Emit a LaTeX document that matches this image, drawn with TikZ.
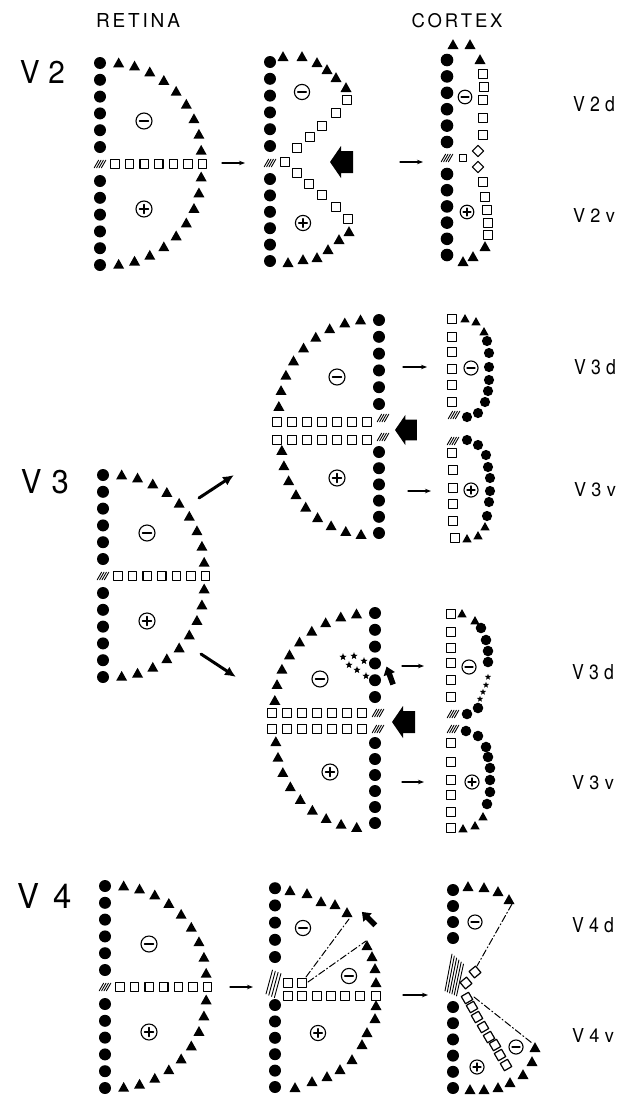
\documentclass[tikz,border=0pt]{standalone}
\usepackage{fontspec}
\setmainfont{TeX Gyre Heros}
\usetikzlibrary{arrows.meta}
\tikzset{
  pdot/.pic={\fill (0,0) circle[radius=6];},
  ptri/.pic={\fill (-5.5,4) -- (5.5,4) -- (0,-5.8) -- cycle;},
  psq/.pic={\draw[line width=1.2pt] (-4.2,-4.2) rectangle (4.2,4.2);},
  phatch/.pic={\foreach \i in {-1.5,-0.5,0.5,1.5}{\draw[line width=0.9pt] ({\i*2.4-2.2},3.8) -- ({\i*2.4+2.2},-3.8);}},
  pminus/.pic={\draw[line width=1.1pt] (0,0) circle[radius=8]; \draw[line width=1.4pt] (-4.5,0) -- (4.5,0);},
  pplus/.pic={\draw[line width=1.1pt] (0,0) circle[radius=8]; \draw[line width=1.4pt] (-4.5,0) -- (4.5,0) (0,-4.5) -- (0,4.5);},
  pstar/.pic={\fill (-90:3.8) -- (-54:1.6) -- (-18:3.8) -- (18:1.6) -- (54:3.8) -- (90:1.6) -- (126:3.8) -- (162:1.6) -- (198:3.8) -- (234:1.6) -- cycle;},
  pbig/.pic={\fill (0,0) -- (11,-16) -- (11,-11) -- (23,-11) -- (23,11) -- (11,11) -- (11,16) -- cycle;},
  psmall/.pic={\fill (0,-10) -- (6,-2) -- (2.8,-2) -- (2.8,9) -- (-2.8,9) -- (-2.8,-2) -- (-6,-2) -- cycle;},
  thinarr/.style={line width=1.1pt, -{Stealth[length=6pt,width=4.5pt]}},
  thickarr/.style={line width=3pt, -{Latex[length=11pt,width=10pt]}},
  dashdot/.style={line width=1pt, dash pattern=on 7pt off 2.5pt on 1.2pt off 2.5pt},
  lbl/.style={inner sep=0pt, outer sep=0pt},
}
\newcommand{\DotCol}[5][1]{\foreach \k in {1,...,#5}{\pic[scale=#1] at ({#2},{#3+(#4)*(\k-1)}) {pdot};}}
\newcommand{\SqRow}[4]{\foreach \k in {1,...,#4}{\pic at ({#1+(#3)*(\k-1)},{#2}) {psq};}}
\newcommand{\TriArc}[5]{\foreach \a in {7.5,16.5,25.5,34.5,43.5,52.5,61.5,70.5,79.5}{\pic at ({#1+(#3)*(#5+4*sin(2*\a))*cos(\a)},{#2+(#4)*(#5+4*sin(2*\a))*sin(\a)}) {ptri};}}
\newcommand{\RetD}[2]{%
  \DotCol{#1}{#2-17}{-16.8}{6}
  \DotCol{#1}{#2+17}{16.8}{6}
  \TriArc{#1}{#2}{1}{-1}{101}
  \TriArc{#1}{#2}{1}{1}{101}
  \SqRow{#1+15}{#2}{14.6}{7}
  \pic at ({#1},{#2}) {phatch};
  \pic at ({#1+44},{#2-43}) {pminus};
  \pic at ({#1+44},{#2+45}) {pplus};
}
\newcommand{\fsMid}[1]{{\fontsize{20}{20}\selectfont #1}}
\newcommand{\fsLrg}[1]{{\fontsize{31}{31}\selectfont #1}}
\begin{document}
\begin{tikzpicture}[x=1pt,y=-1pt,line cap=round,line join=round]
\useasboundingbox (0,0) rectangle (631,1095);
\fill[white] (0,0) rectangle (631,1095);

% ---------- labels ----------
\node[lbl] (tret) at (138,20) {\resizebox{84pt}{14pt}{\fsMid{R\kern3pt E\kern3pt T\kern3pt I\kern3pt N\kern3pt A}}};
\node[lbl] (tcor) at (457,21) {\resizebox{91pt}{14pt}{\fsMid{C\kern3pt O\kern3pt R\kern3pt T\kern3pt E\kern3pt X}}};
\node[lbl] (tv2) at (42.5,71.5) {\resizebox{45pt}{23pt}{\fsLrg{V\kern9pt 2}}};
\node[lbl] (tv3) at (45,482) {\resizebox{48pt}{24pt}{\fsLrg{V\kern10pt 3}}};
\node[lbl] (tv4) at (45,896) {\resizebox{54pt}{25pt}{\fsLrg{V\kern13pt 4}}};
\node[lbl] (tv2d) at (594,104.5) {\resizebox{42pt}{15pt}{\fsMid{V\kern6pt 2\kern6pt d}}};
\node[lbl] (tv2v) at (594,215) {\resizebox{42pt}{14pt}{\fsMid{V\kern6pt 2\kern6pt v}}};
\node[lbl] (tv3da) at (595,367.5) {\resizebox{42pt}{15pt}{\fsMid{V\kern6pt 3\kern6pt d}}};
\node[lbl] (tv3va) at (595,490) {\resizebox{42pt}{14pt}{\fsMid{V\kern6pt 3\kern6pt v}}};
\node[lbl] (tv3db) at (593,672.5) {\resizebox{42pt}{15pt}{\fsMid{V\kern6pt 3\kern6pt d}}};
\node[lbl] (tv3vb) at (593,783) {\resizebox{42pt}{14pt}{\fsMid{V\kern6pt 3\kern6pt v}}};
\node[lbl] (tv4d) at (593,925.5) {\resizebox{42pt}{15pt}{\fsMid{V\kern6pt 4\kern6pt d}}};
\node[lbl] (tv4v) at (593,1035.5) {\resizebox{42pt}{14pt}{\fsMid{V\kern6pt 4\kern6pt v}}};

% ---------- retina D's ----------
\RetD{100}{164}
\RetD{103}{576}
\RetD{105}{987}

% ---------- V2 middle ----------
\DotCol{270}{146}{-16.8}{6}
\DotCol{270}{179}{16.4}{6}
\pic at (270,163) {phatch};
\foreach \p in {(283,57),(302,57),(317,63),(327,70),(336,78),(346,88),(349,232),(339,240),(328,250),(317,258),(303,260),(288,263)} \pic at \p {ptri};
\foreach \p in {(347,100),(336,113),(322,126),(310,137),(297,148),(285,162),(297,173),(309,184),(322,195),(336,207),(348,219)} \pic at \p {psq};
\pic[scale=0.95] at (302,92) {pminus};
\pic[scale=0.95] at (303,223) {pplus};
\pic at (330,162) {pbig};

% ---------- V2 cortex ----------
\DotCol[1.05]{447}{142}{-16.4}{6}
\DotCol[1.05]{447}{174}{16.2}{6}
\pic at (447,158) {phatch};
\foreach \p in {(453,45),(470,45),(480,60),(485,247),(473,257),(463,262)} \pic at \p {ptri};
\foreach \p in {(483,74),(484,87),(483,100),(483,118),(483,135),(483,182),(485,197),(487,210),(488,223),(488,235)} \pic at \p {psq};
\pic[scale=0.9] at (463,158) {psq};
\pic[rotate=45,scale=0.95] at (478,151) {psq};
\pic[rotate=45,scale=0.95] at (478,167) {psq};
\pic[scale=0.85] at (465,97) {pminus};
\pic[scale=0.85] at (467,212) {pplus};

% V2 arrows
\coordinate (a1s) at (222,163); \coordinate (a1e) at (245,163);
\coordinate (a2s) at (400,162); \coordinate (a2e) at (423,162);
\draw[thinarr] (a1s) -- (a1e);
\draw[thinarr] (a2s) -- (a2e);

% ---------- V3 diagonal arrows ----------
\coordinate (d1s) at (199,498); \coordinate (d1e) at (234,475);
\coordinate (d2s) at (201,654); \coordinate (d2e) at (236,677);
\draw[thickarr] (d1s) -- (d1e);
\draw[thickarr] (d2s) -- (d2e);

% ---------- V3 upper middle ----------
\DotCol{379}{404}{-16.8}{6}
\DotCol{379}{452}{16.2}{6}
\TriArc{379}{420}{-1}{-1}{100}
\TriArc{379}{438}{-1}{1}{97}
\SqRow{367}{422}{-15}{7}
\SqRow{367}{440}{-15}{7}
\pic at (383,418) {phatch};
\pic at (383,437) {phatch};
\pic at (337,377) {pminus};
\pic at (337,478) {pplus};
\pic[scale=0.95] at (395,430) {pbig};
\coordinate (b1s) at (403,367); \coordinate (b1e) at (427,367);
\coordinate (b2s) at (408,491); \coordinate (b2e) at (431,491);
\draw[thinarr] (b1s) -- (b1e);
\draw[thinarr] (b2s) -- (b2e);

% ---------- V3 upper cortex ----------
\foreach \p in {(452,319),(452,337),(452,352),(452,369),(452,385),(452,402),(452,453),(453,470),(453,488),(453,504),(453,521),(455,538)} \pic at \p {psq};
\pic at (454,415) {phatch};
\pic at (453,441) {phatch};
\foreach \p in {(465,319),(476,322),(484,332),(485,527),(478,536),(467,539)} \pic[scale=0.85] at \p {ptri};
\foreach \p in {(487,341),(489,353),(489,367),(489,380),(488,391),(485,402),(478,413),(467,417),(467,440),(478,445),(486,455),(488,467),(490,478),(490,491),(489,502),(487,516)} \pic[scale=0.85] at \p {pdot};
\pic[scale=0.88] at (471,368) {pminus};
\pic[scale=0.88] at (471,490) {pplus};

% ---------- V3 lower middle ----------
\DotCol{375}{697}{-16.8}{6}
\DotCol{375}{743}{16}{6}
\TriArc{375}{714}{-1}{-1}{100}
\TriArc{375}{729}{-1}{1}{99}
\SqRow{362}{713}{-15}{7}
\SqRow{362}{729}{-15}{7}
\pic at (378,713) {phatch};
\pic at (378,729) {phatch};
\pic at (320,679) {pminus};
\pic at (330,772) {pplus};
\foreach \p in {(343,657),(354,656),(364,661),(349,665),(357,670),(366,676)} \pic at \p {pstar};
\pic[rotate=20] at (390,676) {psmall};
\pic at (392,722) {pbig};
\coordinate (c1s) at (402,666); \coordinate (c1e) at (424,666);
\coordinate (c2s) at (402,782); \coordinate (c2e) at (424,782);
\draw[thinarr] (c1s) -- (c1e);
\draw[thinarr] (c2s) -- (c2e);

% ---------- V3 lower cortex ----------
\foreach \p in {(451,614),(451,632),(451,648),(451,663),(451,680),(451,697),(451,743),(451,762),(451,780),(451,795),(451,812),(451,828)} \pic at \p {psq};
\pic at (453,714) {phatch};
\pic at (453,729) {phatch};
\foreach \p in {(462,614),(475,621),(483,817),(475,826),(463,829)} \pic[scale=0.85] at \p {ptri};
\foreach \p in {(481,628),(486,640),(488,651),(488,662),(478,708),(467,714),(466,731),(478,736),(486,747),(488,757),(490,768),(490,780),(490,792),(487,804)} \pic[scale=0.88] at \p {pdot};
\foreach \p in {(488,677),(486,685),(483,692),(480,699)} \pic[scale=0.85] at \p {pstar};
\pic[scale=0.88] at (469,667) {pminus};
\pic[scale=0.88] at (472,782) {pplus};

% ---------- V4 middle ----------
\DotCol{275}{957}{-17.2}{5}
\DotCol{275}{1005}{16.4}{6}
\foreach \i in {0,1,2,3} \draw[line width=0.9pt] ({272.5+2.8*\i},{970+1.2*\i}) -- ({266+2.8*\i},{994+1.2*\i});
\foreach \p in {(290,891),(307,894),(321,902),(335,905),(347,913),(367,946),(372,957),(375,969),(376,983),(376,1006),(375,1019),(367,1033),(362,1045),(352,1060),(340,1070),(327,1077),(312,1082),(295,1088)} \pic at \p {ptri};
\pic[rotate=45] at (369,919) {psmall};
\foreach \p in {(288,983),(302,983),(288,996),(302,996),(317,996),(331,996),(345,996),(360,996),(376,996)} \pic at \p {psq};
\coordinate (e1s) at (306,977); \coordinate (e1e) at (349,919);
\coordinate (e2s) at (308,982); \coordinate (e2e) at (366,941);
\draw[dashdot] (e1s) -- (e1e);
\draw[dashdot] (e2s) -- (e2e);
\pic[scale=0.95] at (303,928) {pminus};
\pic[scale=0.95] at (349,976) {pminus};
\pic[scale=0.95] at (318,1033) {pplus};
\coordinate (f1s) at (230,987); \coordinate (f1e) at (253,987);
\coordinate (f2s) at (403,995); \coordinate (f2e) at (428,995);
\draw[thinarr] (f1s) -- (f1e);
\draw[thinarr] (f2s) -- (f2e);

% ---------- V4 cortex ----------
\DotCol{453}{938}{-16}{4}
\DotCol{453}{1007}{16.2}{6}
\foreach \i in {0,...,5} \draw[line width=0.9pt] ({452+2.3*\i},{954+2*\i}) -- ({445+2.3*\i},{991+1*\i});
\foreach \p in {(468,887),(484,888),(498,892),(509,900),(535,1048),(532,1062),(523,1075),(510,1083),(498,1088),(484,1090),(470,1090)} \pic at \p {ptri};
\foreach \p in {(475,972),(466,983)} \pic[rotate=40] at \p {psq};
\foreach \p in {(467,998),(472,1007),(477,1017),(483,1027),(489,1037),(495,1045),(500,1055),(506,1065)} \pic[rotate=30] at \p {psq};
\coordinate (g1s) at (512,904); \coordinate (g1e) at (477,966);
\coordinate (g2s) at (474,997); \coordinate (g2e) at (532,1043);
\draw[dashdot] (g1s) -- (g1e);
\draw[dashdot] (g2s) -- (g2e);
\pic[scale=0.88] at (475,922) {pminus};
\pic[scale=0.88] at (516,1047) {pminus};
\pic[scale=0.88] at (477,1067) {pplus};
\end{tikzpicture}
\end{document}
